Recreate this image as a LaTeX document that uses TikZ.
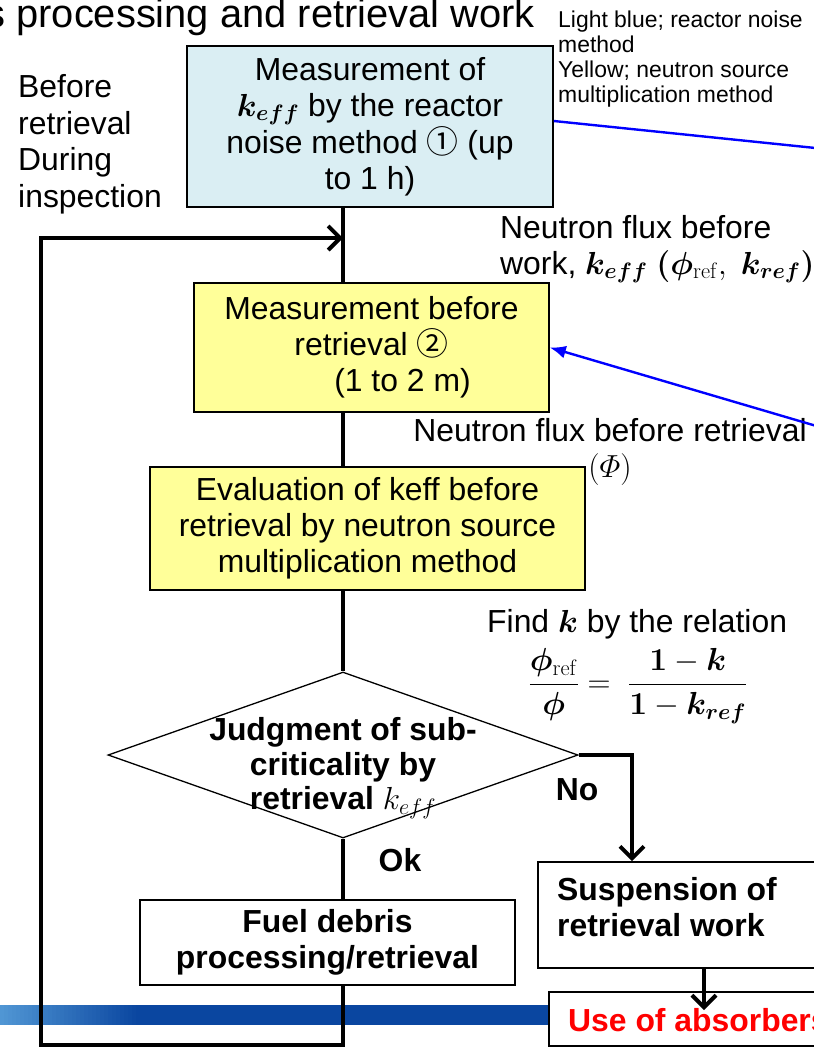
\RequirePackage{fix-cm}
\documentclass[tikz,border=0pt]{standalone}
\usepackage[no-math]{fontspec}
\setmainfont{Liberation Sans}
\newfontfamily\circledfont{Noto Sans CJK JP}
\usepackage{amsmath}
\usepackage{bm}
\usetikzlibrary{shapes.geometric,arrows.meta}

\definecolor{noiseblue}{RGB}{218,238,243}
\definecolor{srcyellow}{RGB}{255,255,153}
\definecolor{linkblue}{RGB}{0,0,255}
\definecolor{bardark}{RGB}{10,70,160}
\definecolor{barlight}{RGB}{80,150,212}
\definecolor{alarmred}{RGB}{255,0,0}

\newcommand\bodytext{\fontsize{32}{36}\selectfont}
\newcommand\notetext{\fontsize{23}{25}\selectfont}
\newcommand\headtext{\fontsize{40}{46}\selectfont}

\tikzset{
  flow/.style={line width=4bp, line join=miter},
  framebox/.style={rectangle, draw=black, line width=1.6bp, inner sep=0pt, align=center, font=\bodytext},
  noisebox/.style={framebox, fill=noiseblue},
  sourcebox/.style={framebox, fill=srcyellow},
  plainbox/.style={framebox, fill=white},
  decision/.style={diamond, draw=black, line width=1.3bp, fill=white, inner sep=0pt,
                   minimum width=470bp, minimum height=166bp},
  caption/.style={inner sep=0pt, font=\bodytext},
  bluelink/.style={draw=linkblue, line width=2.4bp},
}

\begin{document}
\begin{tikzpicture}[x=1bp, y=-1bp, >={Straight Barb[length=12bp,width=24bp]}]
\useasboundingbox (0,0) rectangle (814,1048);

% footer band: light at the left end, dark blue for the rest
\fill[bardark] (0,1005) rectangle (548,1025);
\foreach \i in {0,...,34}{
  \pgfmathsetmacro\mixpct{100*\i/34}
  \fill[bardark!\mixpct!barlight] (\i*4,1005) rectangle (\i*4+4.6,1025);
}

% heading and legend
\node[caption, font=\headtext, anchor=base east] (title) at (535,27) {s processing and retrieval work};
\node[inner sep=0pt, font=\notetext, align=left, anchor=north west] (legend) at (558,11)
  {Light blue; reactor noise\\ method\\ Yellow; neutron source\\ multiplication method};

% phase labels
\node[caption, align=left, anchor=north west, font=\fontsize{32}{37}\selectfont] (phase) at (18,74)
  {Before\\ retrieval\\ During\\ inspection};

% main column
\coordinate (spine) at (343,0);
\node[noisebox, minimum width=366bp, minimum height=161bp] (noise) at (370,126.5)
  {Measurement of\\ $\bm{k_{eff}}$ by the reactor\\ noise method {\circledfont ①} (up\\ to 1 h)};
\node[sourcebox, minimum width=355bp, minimum height=129bp] (before) at (371.5,347.5)
  {Measurement before\\ retrieval {\circledfont ②}\\ \hspace*{62bp}(1 to 2 m)};
\node[sourcebox, minimum width=435bp, minimum height=123bp] (evaluate) at (367.5,528.5)
  {Evaluation of keff before\\ retrieval by neutron source\\ multiplication method};
\node[decision] (judge) at (343,755) {};
\node[caption, font=\fontsize{32}{35}\selectfont\bfseries, align=center] (judgetext) at (343,768)
  {Judgment of sub-\\ criticality by\\ retrieval $k_{eff}$};
\node[plainbox, font=\bodytext\bfseries, minimum width=375bp, minimum height=85bp] (debris) at (327.5,942.5)
  {Fuel debris\\ processing/retrieval};
\node[plainbox, minimum width=300bp, minimum height=106bp, anchor=west] (suspend) at (537,915) {};
\node[caption, font=\bodytext\bfseries, align=left, anchor=west] (suspendtext) at (557,907)
  {Suspension of\\ retrieval work};
\node[plainbox, minimum width=300bp, minimum height=54bp, anchor=west] (absorb) at (548,1019) {};
\node[caption, font=\bodytext\bfseries, text=alarmred, anchor=west] (absorbtext) at (568,1020)
  {Use of absorbers};

% side notes
\node[caption, align=left, anchor=north west] (fluxref) at (500,215)
  {Neutron flux before\\ work, $\bm{k_{eff}}$ $\bm{(\phi}_{\mathrm{ref}},\ \bm{k_{ref})}$};
\node[caption, align=center, anchor=north] (fluxnow) at (610,418)
  {Neutron flux before retrieval\\ $(\varPhi)$};
\node[caption, anchor=base west] (relation) at (487,632) {Find $\bm{k}$ by the relation};
\node[caption] (formula) at (638,686)
  {$\displaystyle \frac{\bm{\phi}_{\mathrm{ref}}}{\bm{\phi}} = \;\frac{\bm{1}-\bm{k}}{\bm{1}-\bm{k_{ref}}}$};
\node[caption, font=\bodytext\bfseries] (nolabel) at (577,790) {No};
\node[caption, font=\bodytext\bfseries] (oklabel) at (400,860) {Ok};

% connectors of the main column
\coordinate (loopbase) at (41,1045);
\coordinate (looptop) at (41,238);
\coordinate (merge) at (343,238);
\draw[flow] (noise.south -| spine) -- (before.north -| spine);
\draw[flow] (before.south -| spine) -- (evaluate.north -| spine);
\draw[flow] (evaluate.south -| spine) -- (judge.north);
\draw[flow] (judge.south) -- (debris.north -| spine);
\draw[flow, ->] (debris.south -| spine) -- (spine |- loopbase) -- (loopbase) -- (looptop) -- (merge);

% rejection branch
\coordinate (nobend) at (632,755);
\draw[flow, ->] (judge.east) -- (nobend) -- (suspend.north -| nobend);
\coordinate (absorbtip) at (704,1010);
\draw[flow, ->] (suspend.south -| absorbtip) -- (absorbtip);

% links to the measurement methods
\coordinate (noiseout) at (830,149.5);
\coordinate (fluxin) at (830,430);
\draw[bluelink] (noise.east |- 0,121) -- (noiseout);
\draw[bluelink, -{Latex[length=16bp,width=13bp]}] (fluxin) -- (before.east);
\end{tikzpicture}
\end{document}
